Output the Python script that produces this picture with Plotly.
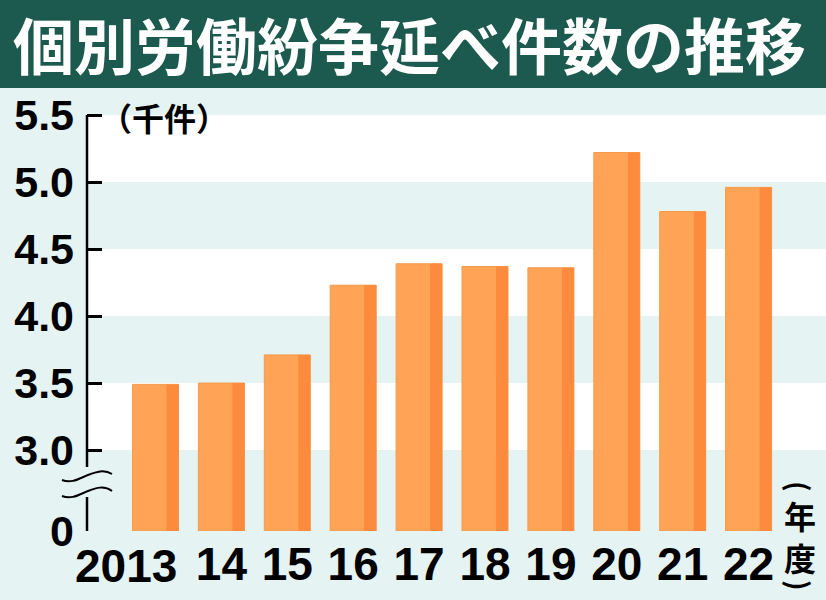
import plotly.graph_objects as go

# ---- data ----
years = ["2013", "14", "15", "16", "17", "18", "19", "20", "21", "22"]
cases = [3.49, 3.50, 3.71, 4.23, 4.39, 4.37, 4.36, 5.22, 4.78, 4.96]  # 千件
ytick_vals = [3.0, 3.5, 4.0, 4.5, 5.0, 5.5]
ytick_text = ["3.0", "3.5", "4.0", "4.5", "5.0", "5.5"]
title_text = "個別労働紛争延べ件数の推移"
unit_text = "（千件）"
x_unit_chars = ["(", "年", "度", ")"]

# ---- layout constants ----
W, H = 826, 600
ML, MR, MT, MB = 87, 0, 88, 69
PW, PH = W - ML - MR, H - MT - MB
BASE = 2.396          # axis value where the (broken) zero sits
YTOP = 5.7015
XL, XR = -1.0395, 10.1745

MAIN = "#FFA356"
DARK = "#FD8B3E"
BG = "#E5F3F3"
TITLE_BG = "#1C5A4F"

idx = list(range(len(years)))
heights = [c - BASE for c in cases]


def px_x(px):
    return (px - ML) / PW


def px_y(py):
    return BASE + (H - MB - py) / (PH / (YTOP - BASE))


def pp_y(py):
    return (H - MB - py) / PH


fig = go.Figure()
bw = 0.698
sw = 0.182
fig.add_trace(go.Bar(x=idx, y=heights, base=BASE, width=bw, offset=-bw / 2,
                     marker=dict(color=MAIN, line=dict(width=1, color="#F59A4C")),
                     hoverinfo="skip", showlegend=False))
fig.add_trace(go.Bar(x=idx, y=heights, base=BASE, width=sw, offset=bw / 2 - sw,
                     marker=dict(color=DARK, line=dict(width=0)),
                     hoverinfo="skip", showlegend=False))

shapes = []
# white stripes
for lo in [3.0, 4.0, 5.0]:
    shapes.append(dict(type="rect", xref="paper", yref="y", x0=0, x1=1, y0=lo, y1=lo + 0.5,
                       fillcolor="white", line=dict(width=0), layer="below"))
# title bar
shapes.append(dict(type="rect", xref="paper", yref="paper", x0=-0.2, x1=1.05, y0=1, y1=1.4,
                   fillcolor=TITLE_BG, line=dict(width=0), layer="below"))
# axis line (broken)
shapes.append(dict(type="line", xref="paper", yref="y", x0=0, x1=0, y0=5.5, y1=px_y(467),
                   line=dict(color="black", width=2.5)))
shapes.append(dict(type="line", xref="paper", yref="y", x0=0, x1=0, y0=px_y(497), y1=BASE,
                   line=dict(color="black", width=2.5)))


def squiggle(pts):
    (a, b), (c1, d1), (c2, d2), (e, f), (s1, t1), (g, h) = pts
    return ("M {},{} C {},{} {},{} {},{} S {},{} {},{}".format(
        px_x(a), px_y(b), px_x(c1), px_y(d1), px_x(c2), px_y(d2), px_x(e), px_y(f),
        px_x(s1), px_y(t1), px_x(g), px_y(h)))


shapes.append(dict(type="path", xref="paper", yref="y",
                   path=squiggle([(62, 480), (72, 484), (80, 478), (88, 475), (104, 469), (112, 474)]),
                   line=dict(color="black", width=2)))
shapes.append(dict(type="path", xref="paper", yref="y",
                   path=squiggle([(62, 496), (72, 500), (80, 494), (88, 491), (104, 485), (112, 491)]),
                   line=dict(color="black", width=2)))

CJK = "Noto Sans CJK JP"
NUMFONT = "Liberation Sans, Arial, sans-serif"
XFS = 46
annotations = [
    dict(text=title_text, xref="paper", yref="paper", x=px_x(409), y=pp_y(44),
         xanchor="center", yanchor="middle", showarrow=False,
         font=dict(family=CJK, size=61, color="white", weight=700)),
    dict(text=unit_text, xref="paper", yref="paper", x=px_x(98), y=pp_y(117),
         xanchor="left", yanchor="middle", showarrow=False,
         font=dict(family=CJK, size=32, color="black", weight=700)),
    # first year label sits right-aligned under its bar
    dict(text=years[0], xref="x", yref="paper", x=idx[0] + bw / 2 + 0.01, y=pp_y(566),
         xanchor="right", yanchor="middle", showarrow=False,
         font=dict(family=NUMFONT, size=XFS, color="black", weight=700)),
]
# vertical "(年度)"
for ch, py, size, ang in zip(x_unit_chars, [486, 515, 557, 585], [28, 32, 32, 28], [90, 0, 0, 90]):
    annotations.append(dict(text=ch, textangle=ang, xref="paper", yref="paper", x=px_x(800),
                            y=pp_y(py), xanchor="center", yanchor="middle", showarrow=False,
                            font=dict(family=CJK, size=size, color="black", weight=700)))

fig.update_layout(
    width=W, height=H,
    margin=dict(l=ML, r=MR, t=MT, b=MB, pad=0, autoexpand=False),
    paper_bgcolor=BG, plot_bgcolor=BG,
    barmode="overlay",
    shapes=shapes,
    annotations=annotations,
    xaxis=dict(range=[XL, XR], tickvals=idx[1:], ticktext=years[1:], showgrid=False,
               zeroline=False, showline=False, ticks="", ticklabelstandoff=2, tickangle=0,
               automargin=False,
               tickfont=dict(family=NUMFONT, size=XFS, color="black", weight=700)),
    yaxis=dict(range=[BASE, YTOP], tickvals=[BASE] + ytick_vals, ticktext=["0"] + ytick_text,
               showgrid=False, zeroline=False, showline=False, automargin=False,
               ticks="inside", ticklen=15, tickwidth=2.5, tickcolor="black",
               ticklabelstandoff=12,
               tickfont=dict(family=NUMFONT, size=43, color="black", weight=700)),
)

fig.write_html("out.html", config={"displayModeBar": False},
               post_script="document.body.style.margin='0';document.body.style.background='" + BG + "';")
